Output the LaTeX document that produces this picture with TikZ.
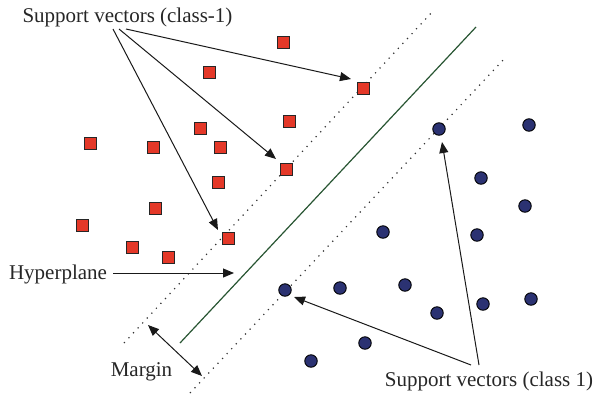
\documentclass[tikz,border=0pt]{standalone}
\usepackage{fontspec}
\setmainfont{Liberation Serif}
\usetikzlibrary{arrows.meta}
\definecolor{sqred}{RGB}{228,56,40}
\definecolor{dotblue}{RGB}{43,50,114}
\definecolor{hypgreen}{RGB}{40,85,50}
\tikzset{
  redpt/.style={draw=black!85, line width=1pt, fill=sqred, minimum size=12pt, inner sep=0pt, outer sep=0pt},
  bluept/.style={circle, draw=black, line width=0.9pt, fill=dotblue, minimum size=12.5pt, inner sep=0pt},
  lbl/.style={font=\fontsize{21}{24}\selectfont, text=black!85, inner sep=0pt, anchor=base},
  arr/.style={line width=1pt, black!90, -{Triangle[length=11pt,width=9pt]}},
  darr/.style={line width=1pt, black!90, {Triangle[length=11pt,width=9pt]}-{Triangle[length=11pt,width=9pt]}},
  marginline/.style={line width=1.2pt, black!80, dash pattern=on 1.2pt off 5.5pt},
}
\begin{document}
\begin{tikzpicture}[x=1pt,y=-1pt]
\useasboundingbox (0,0) rectangle (594,397);
% lines
\coordinate (h1) at (180,343); \coordinate (h2) at (476,27);
\coordinate (m1) at (124,343); \coordinate (m2) at (434,10);
\coordinate (n1) at (190,393); \coordinate (n2) at (506,57);
\draw[hypgreen, line width=1.2pt] (h1) -- (h2);
\draw[marginline] (m1) -- (m2);
\draw[marginline] (n1) -- (n2);
% red squares
\foreach \x/\y [count=\i] in {283/42, 209/72, 363/88, 289/121, 200/128, 90/143, 153/147, 220/147, 286/169, 218/182, 155/208, 82/225, 228/238, 132/247, 168/257}
  \node[redpt] (r\i) at (\x,\y) {};
% blue circles
\foreach \x/\y [count=\i] in {439/129, 529/125, 481/178, 525/206, 383/232, 477/235, 285/290, 340/288, 405/285, 483/304, 531/299, 437/313, 365/343, 311/361}
  \node[bluept] (b\i) at (\x,\y) {};
% labels
\node[lbl] (svneg) at (127.5,22) {Support vectors (class-1)};
\node[lbl] (hyp) at (58,279) {Hyperplane};
\node[lbl] (mar) at (141.5,376) {Margin};
\node[lbl] (svpos) at (489,386) {Support vectors (class 1)};
% arrow coordinates
\coordinate (s1) at (126,29); \coordinate (t1) at (351,79);
\coordinate (s2) at (119,29); \coordinate (t2) at (276,159);
\coordinate (s3) at (113,29); \coordinate (t3) at (218,230);
\coordinate (hs) at (113,273); \coordinate (ht) at (234,273);
\coordinate (ma) at (148,325); \coordinate (mb) at (202,376);
\coordinate (p1) at (479,365); \coordinate (q1) at (442,142);
\coordinate (p2) at (471,365); \coordinate (q2) at (294,297);
\draw[arr] (s1) -- (t1);
\draw[arr] (s2) -- (t2);
\draw[arr] (s3) -- (t3);
\draw[arr] (hs) -- (ht);
\draw[darr] (ma) -- (mb);
\draw[arr] (p1) -- (q1);
\draw[arr] (p2) -- (q2);
\end{tikzpicture}
\end{document}
